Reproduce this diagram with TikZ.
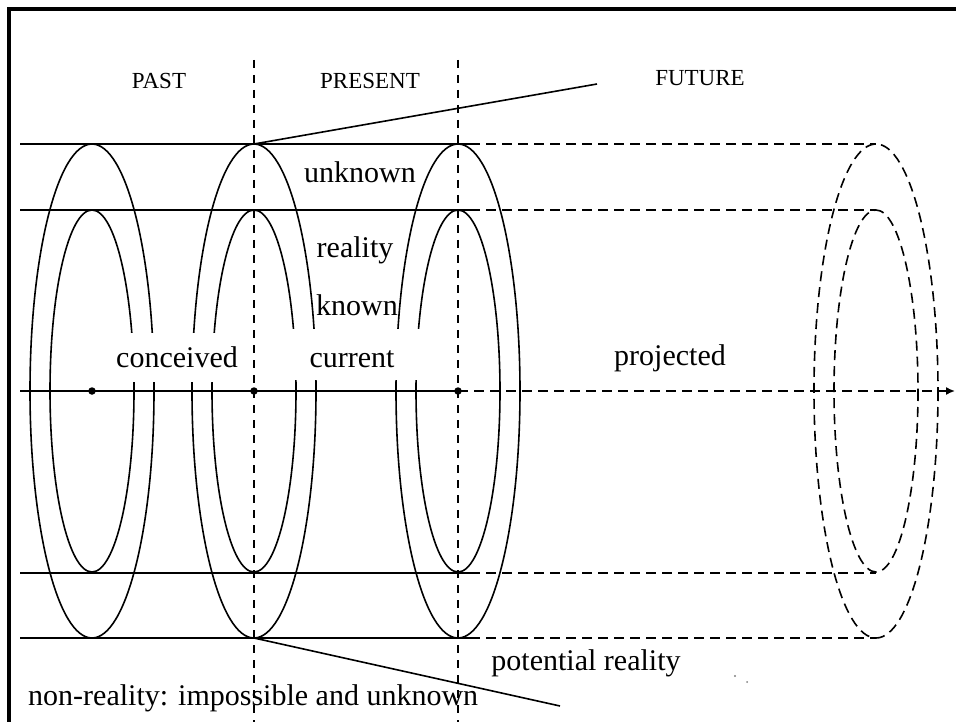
\documentclass[tikz,border=0pt]{standalone}
\usepackage{fontspec}
\setmainfont{Liberation Serif}
\usetikzlibrary{arrows.meta}
\begin{document}
\begin{tikzpicture}[x=1pt,y=-1pt,
  solidline/.style={line width=1.6pt},
  futureline/.style={line width=1.6pt, dash pattern=on 10pt off 6pt},
  divider/.style={line width=1.3pt, dash pattern=on 8pt off 7pt},
  heading/.style={font=\fontsize{23}{28}\selectfont, anchor=base, inner sep=0pt},
  tag/.style={font=\fontsize{30}{36}\selectfont, anchor=base, inner sep=0pt},
  outerring/.style={x radius=62, y radius=247},
  innerring/.style={x radius=42, y radius=181},
  dot/.style={circle, fill=black, inner sep=0pt, minimum size=7.5pt}]
\useasboundingbox (0,0) rectangle (956,722);

% centres of the time rings on the time axis
\coordinate (c1) at (92,391);
\coordinate (c2) at (254,391);
\coordinate (c3) at (458,391);
\coordinate (c4) at (876,391);

% tangent lines of the tube: solid up to the present, dashed into the future
\foreach \y in {144,210,573,638} {
  \draw[solidline] (20,\y) -- (470,\y);
  \draw[futureline] (470,\y) -- (876,\y);
}

% rings
\foreach \c in {c1,c2,c3} {
  \draw[solidline] (\c) ellipse [outerring];
  \draw[solidline] (\c) ellipse [innerring];
}
\draw[futureline] (c4) ellipse [outerring];
\draw[futureline] (c4) ellipse [innerring];

% time axis
\coordinate (axisstart) at (20,391);
\coordinate (axisend) at (955,391);
\draw[solidline] (axisstart) -- (c3);
\draw[futureline, -{Latex[length=9pt,width=8pt]}] (c3) -- (axisend);

% cone of the present
\coordinate (conetop) at (597,84);
\coordinate (conebot) at (560,706);
\draw[solidline] (c2 |- 0,144) -- (conetop);
\draw[solidline] (c2 |- 0,638) -- (conebot);

% white patches behind the ring labels
\fill[white] (112,333) rectangle (246,382);
\fill[white] (284,329) rectangle (425,380);

% boundaries between past, present and future
\coordinate (d1top) at (254,60);
\coordinate (d1bot) at (254,722);
\coordinate (d2top) at (458,60);
\coordinate (d2bot) at (458,722);
\draw[divider] (d1top) -- (d1bot);
\draw[divider] (d2top) -- (d2bot);

% points on the axis
\node[dot] (p1) at (c1) {};
\node[dot] (p2) at (c2) {};
\node[dot] (p3) at (c3) {};

% headings
\node[heading] (past) at (159,89) {PAST};
\node[heading] (present) at (370,89) {PRESENT};
\node[heading] (future) at (700,86) {FUTURE};

% labels
\node[tag] (unknown) at (360,183) {unknown};
\node[tag] (reality) at (355,258) {reality};
\node[tag] (known) at (357,315) {known};
\node[tag] (conceived) at (177,367) {conceived};
\node[tag] (current) at (352,367) {current};
\node[tag] (projected) at (670,365) {projected};
\node[tag] (potential) at (586,670) {potential reality};
\node[tag, anchor=base west] (nonreality) at (28,705) {non-reality: impossible and unknown};

% specks
\fill[gray] (735,676) circle (1.1);
\fill[gray] (747,682) circle (1.0);

% frame
\draw[line width=3.6pt] (9,722) -- (9,9) -- (956,9);
\end{tikzpicture}
\end{document}
